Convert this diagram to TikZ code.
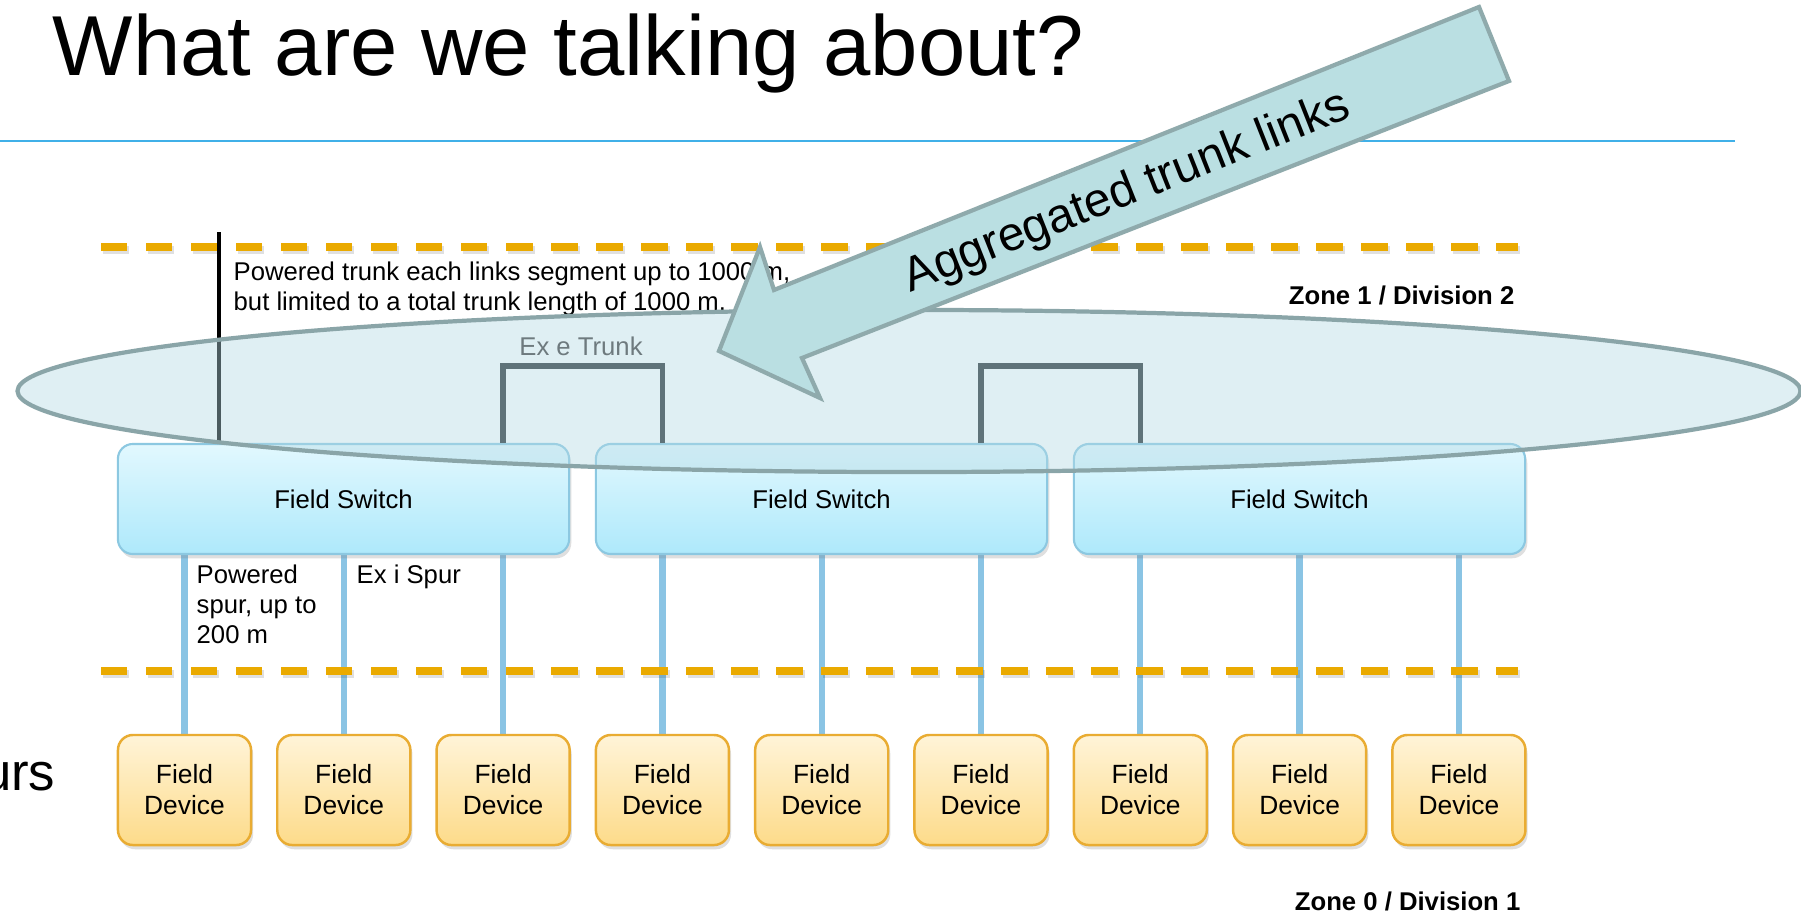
\documentclass[tikz,border=0pt]{standalone}
\usepackage{fontspec}
\setmainfont{Liberation Sans}
\usetikzlibrary{shadows,positioning,calc,backgrounds}

\definecolor{zoneorange}{RGB}{234,170,0}
\definecolor{rulecyan}{RGB}{64,176,232}
\definecolor{switchtop}{RGB}{226,248,254}
\definecolor{switchbot}{RGB}{174,233,251}
\definecolor{switchedge}{RGB}{140,200,225}
\definecolor{devtop}{RGB}{255,244,216}
\definecolor{devbot}{RGB}{253,219,138}
\definecolor{devedge}{RGB}{233,172,50}
\definecolor{spurblue}{RGB}{138,196,228}
\definecolor{trunkgray}{RGB}{35,42,44}
\definecolor{ovalfill}{RGB}{180,218,228}
\definecolor{ovaledge}{RGB}{138,165,168}
\definecolor{arrowfill}{RGB}{186,223,226}
\definecolor{arrowedge}{RGB}{143,170,172}
\definecolor{trunktext}{RGB}{110,122,126}

\begin{document}
\begin{tikzpicture}
[x=0.01cm,y=-0.01cm,
every node/.style={inner sep=0pt},
%
smalltext/.style={font=\fontsize{7.3}{8.6}\selectfont},
zonetext/.style={font=\fontsize{7.3}{8.6}\selectfont\bfseries,anchor=base east},
fswitch/.style={shape=rectangle,rounded corners=0.15cm,draw=switchedge,line width=0.6pt,
  top color=switchtop,bottom color=switchbot,minimum width=4.51cm,minimum height=1.1cm,smalltext,
  drop shadow={opacity=.25,shadow xshift=.6pt,shadow yshift=-1.2pt}},
fdevice/.style={shape=rectangle,rounded corners=0.15cm,draw=devedge,line width=0.7pt,
  top color=devtop,bottom color=devbot,minimum width=1.33cm,minimum height=1.1cm,align=center,
  font=\fontsize{7.5}{8.8}\selectfont,
  drop shadow={opacity=.25,shadow xshift=.6pt,shadow yshift=-1.2pt}},
%
spur/.style={spurblue,line width=1.8pt},
trunk/.style={trunkgray,line width=1.5pt},
boundary/.style={zoneorange,line width=2.5pt,dash pattern=on 7.5pt off 5.3pt},
boundaryshadow/.style={boundary,black,opacity=.12},
oval/.style={draw=ovaledge,line width=1.2pt,fill=ovalfill,fill opacity=.42},
bigarrow/.style={draw=arrowedge,line width=1.2pt,fill=arrowfill,line join=miter}]
%
\useasboundingbox (0,0) rectangle (1801,915);
%
% title
\node (title) [anchor=base west,font=\fontsize{24.2}{28}\selectfont] at (52,75) {What are we talking about?};
\draw[rulecyan,line width=0.7pt] (0,141) -- (1735,141);
\node (cut) [anchor=base east,font=\fontsize{15}{18}\selectfont] at (56,790) {urs};
%
% switches and devices
\foreach \i/\x in {1/343.5,2/821.5,3/1299.5}
\node (sw\i) [fswitch] at (\x,499) {Field Switch};
\foreach \i in {1,...,9}
\node (dev\i) [fdevice] at ({184.5+159.3*(\i-1)},790) {Field\\Device};
% spurs
\begin{pgfonlayer}{background}
\fill[white] (0,0) rectangle (1801,915);
\foreach \i/\s in {1/1,2/1,3/1,4/2,5/2,6/2,7/3,8/3,9/3}
\draw[spur] (dev\i.north) -- (dev\i.north |- sw\s.south);
\end{pgfonlayer}
%
% zone boundaries
\foreach \y in {247,671} {
\draw[boundaryshadow] (103,\y+3) -- (1520,\y+3);
\draw[boundary] (101,\y) -- (1518,\y);
}
\node [zonetext] at (1515,304) {Zone 1 / Division 2};
\node [zonetext] at (1521,910) {Zone 0 / Division 1};
%
% trunk
\coordinate (ttop) at (219,232);
\draw[black,line width=1.4pt] (ttop) -- (ttop |- sw1.north);
\draw[trunk] (dev3.north |- sw1.north) -- ++(0,-77) -| (dev4.north |- sw2.north);
\draw[trunk] (dev6.north |- sw2.north) -- ++(0,-77) -| (dev7.north |- sw3.north);
\node (trunknote) [smalltext,align=left,anchor=north west] at (233,261)
{Powered trunk each links segment up to 1000 m,\\but limited to a total trunk length of 1000 m.};
\node (spurnote) [smalltext,align=left,anchor=north west] at (196,564) {Powered\\spur, up to\\200 m};
\node (spurlabel) [smalltext,anchor=base west] at (356,583) {Ex i Spur};
%
\draw[oval] (909,391) ellipse [x radius=8.91cm,y radius=0.81cm];
\node (trunklabel) [smalltext,text=trunktext,anchor=base] at (581,355) {Ex e Trunk};
%
% arrow
\draw[bigarrow] (719,351) -- (820,398) -- (802,358) -- (1509,81) -- (1479,7)
  -- (774,290) -- (760,247) -- cycle;
\node (agglabel) [rotate=21.6,font=\fontsize{13.6}{16}\selectfont] at (1127,193) {Aggregated trunk links};
\end{tikzpicture}
\end{document}
